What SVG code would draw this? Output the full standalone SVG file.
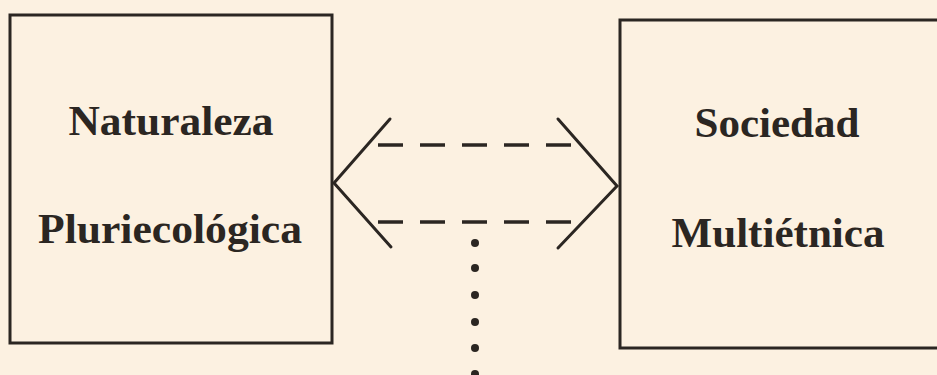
<svg xmlns="http://www.w3.org/2000/svg" width="937" height="375" viewBox="0 0 937 375">
<style>
.box{fill:none;stroke:#2b2622;stroke-width:3}
.lbl{font-family:"Liberation Serif","Times New Roman",serif;font-weight:bold;font-size:42px;fill:#2b2622;text-anchor:middle}
.arm{fill:none;stroke:#2b2622;stroke-width:3;stroke-linecap:round}
.dash{stroke:#2b2622;stroke-width:3.5;stroke-dasharray:25 17}
.dot{fill:#2b2622}
</style>
<rect width="937" height="375" fill="#fcf1e1"/>
<g id="naturaleza">
<rect class="box" x="10" y="15" width="322" height="328"/>
<text class="lbl" x="171" y="135" textLength="205" lengthAdjust="spacingAndGlyphs">Naturaleza</text>
<text class="lbl" x="170" y="243" textLength="264" lengthAdjust="spacingAndGlyphs">Pluriecológica</text>
</g>
<g id="sociedad">
<rect class="box" x="620" y="20" width="330" height="328"/>
<text class="lbl" x="777" y="137" textLength="165" lengthAdjust="spacingAndGlyphs">Sociedad</text>
<text class="lbl" x="778" y="247" textLength="213" lengthAdjust="spacingAndGlyphs">Multiétnica</text>
</g>
<g id="connectors">
<polyline class="arm" points="390,119 334,183 391,247"/>
<polyline class="arm" points="558,119 617,186 558,248"/>
<line class="dash" x1="378" y1="145" x2="573" y2="145"/>
<line class="dash" x1="378" y1="222" x2="573" y2="222"/>
<circle class="dot" cx="475" cy="243" r="4"/>
<circle class="dot" cx="475" cy="268" r="4"/>
<circle class="dot" cx="475" cy="295" r="4"/>
<circle class="dot" cx="475" cy="322" r="4"/>
<circle class="dot" cx="475" cy="348" r="4"/>
<circle class="dot" cx="475" cy="374" r="4"/>
</g>
</svg>
